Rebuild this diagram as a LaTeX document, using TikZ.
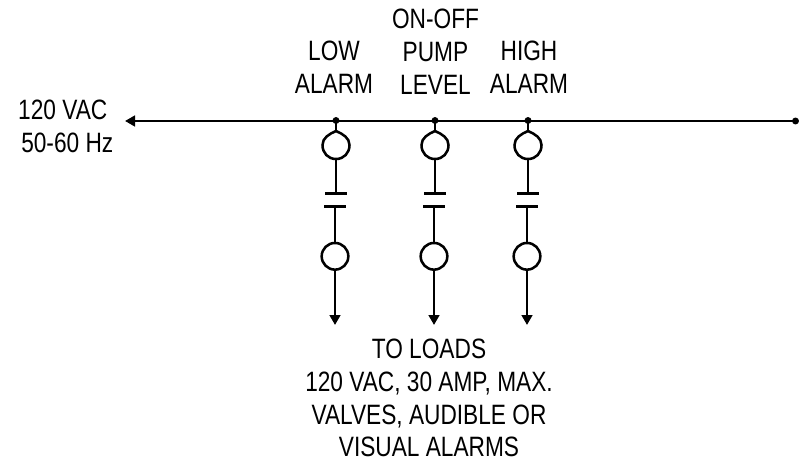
\documentclass[tikz,border=0pt]{standalone}
\usepackage{fontspec}
\setmainfont[FakeStretch=0.81]{Liberation Sans}
\usetikzlibrary{arrows.meta}
\newcommand{\lbl}{\fontsize{21pt}{24.6pt}\selectfont}
\tikzset{
  x=0.75pt,y=-0.75pt,
  wire/.style={line width=1.9pt,black},
  bus/.style={line width=2.1pt,black},
  ring/.style={circle,draw=black,line width=1.9pt,minimum size=20pt,inner sep=0pt},
  anchorring/.style={circle,minimum size=21pt,inner sep=0pt},
  dot/.style={circle,fill=black,inner sep=0pt,minimum size=5.2pt},
  head/.style={-{Triangle[length=7.5pt,width=8pt]}},
  txt/.style={font=\lbl,align=center,inner sep=0pt,text=black}
}
\begin{document}
\begin{tikzpicture}
\useasboundingbox (0,0) rectangle (799,463);
% bus
\node[dot] (e) at (795.5,121) {};
\coordinate (w) at (125,121);
\draw[bus,head] (e.center) -- (w);
% columns
\foreach \n/\a/\b in {1/336/335,2/435/434,3/528/527}{
  \node[dot] (d\n) at (\a,120.5) {};
  \node[anchorring] (u\n) at (\a,145) {};
  \draw[wire,shift={(\a,145)}] (0,-14) .. controls (7,-11) and (13.5,-7) .. (13.5,0)
     .. controls (13.5,8) and (8,14) .. (0,14)
     .. controls (-8,14) and (-13.5,8) .. (-13.5,0)
     .. controls (-13.5,-7) and (-7,-11) .. (0,-14) -- cycle;
  \coordinate (ct\n) at (\a,193.7);
  \coordinate (cb\n) at (\b,206.7);
  \node[ring] (l\n) at (\b,256.3) {};
  \coordinate (a\n) at (\b,325);
  \draw[wire] (d\n.center) -- (u\n.north);
  \draw[wire] (u\n.south) -- (ct\n);
  \draw[wire] ([xshift=-8pt]ct\n) -- ([xshift=8pt]ct\n);
  \draw[wire] ([xshift=-8pt]cb\n) -- ([xshift=8pt]cb\n);
  \draw[wire] (cb\n) -- (l\n.north);
  \draw[wire,head] (l\n.south) -- (a\n);
}
% labels
\node[txt] (t1) at (334,67.5) {LOW\\ALARM};
\node[txt] (t2) at (435.5,52) {ON-OFF\\PUMP\\LEVEL};
\node[txt] (t3) at (529,67.5) {HIGH\\ALARM};
\node[txt] (t4) at (65,126.5) {120 VAC\hspace*{3.4pt}\\\hspace*{3.4pt}50-60 Hz};
\node[txt] (t5) at (429,398) {TO LOADS\\120 VAC, 30 AMP, MAX.\\VALVES, AUDIBLE OR\\VISUAL ALARMS};
\end{tikzpicture}
\end{document}
